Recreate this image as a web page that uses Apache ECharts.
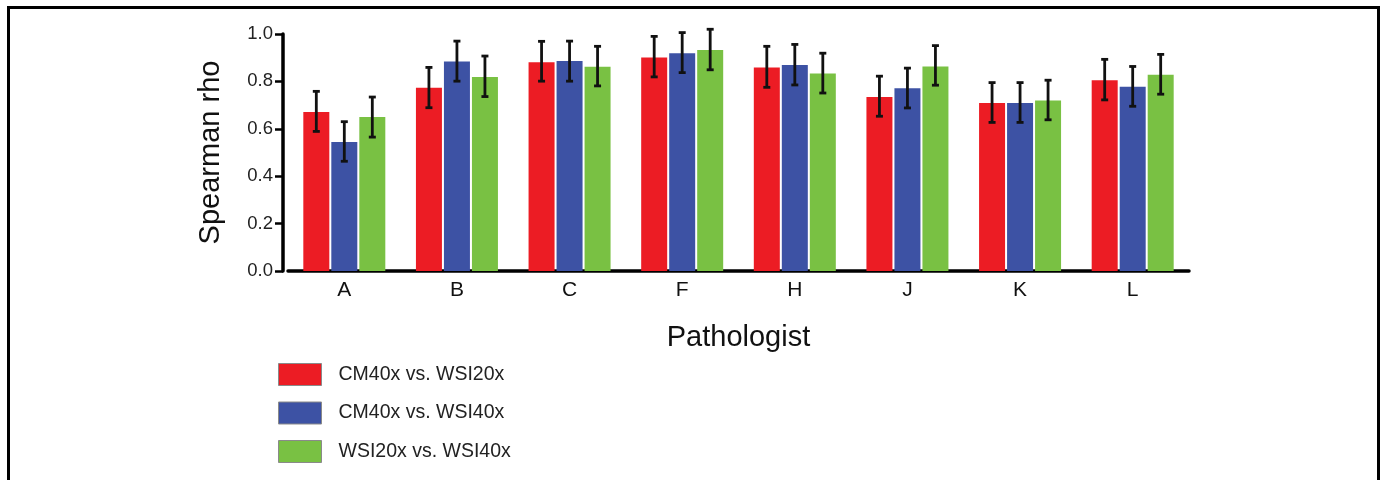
<!DOCTYPE html>
<html>
<head>
<meta charset="utf-8">
<script src="https://cdn.jsdelivr.net/npm/echarts@6/dist/echarts.min.js"></script>
<style>
html,body{margin:0;padding:0;background:#fff;}
#chart{width:1380px;height:480px;position:absolute;left:0;top:0;}
#frame{position:absolute;left:7px;top:6px;width:1367px;height:480px;border-left:3px solid #000;border-top:3px solid #000;border-right:3px solid #000;pointer-events:none;box-sizing:content-box;}
</style>
</head>
<body>
<div id="chart"></div>
<div id="frame"></div>
<script>
const categories = ['A','B','C','F','H','J','K','L'];
const seriesNames = ['CM40x vs. WSI20x','CM40x vs. WSI40x','WSI20x vs. WSI40x'];
const redVals   = [0.671,0.773,0.881,0.901,0.859,0.734,0.709,0.805];
const redHi     = [0.758,0.859,0.969,0.990,0.948,0.822,0.795,0.893];
const redLo     = [0.589,0.689,0.801,0.819,0.775,0.653,0.627,0.722];
const blueVals  = [0.544,0.884,0.886,0.919,0.869,0.771,0.709,0.777];
const blueHi    = [0.630,0.970,0.970,1.006,0.956,0.856,0.795,0.863];
const blueLo    = [0.463,0.801,0.801,0.837,0.785,0.688,0.627,0.695];
const greenVals = [0.650,0.819,0.862,0.932,0.833,0.863,0.719,0.828];
const greenHi   = [0.734,0.907,0.948,1.020,0.919,0.951,0.805,0.914];
const greenLo   = [0.565,0.736,0.781,0.849,0.751,0.784,0.638,0.746];
const yTicks = [0,0.2,0.4,0.6,0.8,1.0];

const colors = ['#EC1C24','#3D52A4','#79C143'];
const BAR_W = 26, BAR_GAP = 2;
const FONT = '"Liberation Sans", Arial, sans-serif';

const vals = [redVals, blueVals, greenVals];
const his = [redHi, blueHi, greenHi];
const los = [redLo, blueLo, greenLo];

const chart = echarts.init(document.getElementById('chart'), null, {renderer:'canvas'});

const series = [];
vals.forEach((v, i) => {
  series.push({
    name: seriesNames[i],
    type: 'bar',
    data: v,
    barWidth: BAR_W,
    barGap: (BAR_GAP / BAR_W * 100) + '%',
    itemStyle: {color: colors[i]},
    silent: true
  });
});
vals.forEach((v, i) => {
  const data = categories.map((c, k) => [k, los[i][k], his[i][k]]);
  series.push({
    type: 'custom',
    silent: true,
    clip: false,
    z: 10,
    data: data,
    encode: {x: 0, y: [1, 2]},
    renderItem: function (params, api) {
      const k = api.value(0);
      const lo = api.coord([k, api.value(1)]);
      const hi = api.coord([k, api.value(2)]);
      const off = (i - 1) * (BAR_W + BAR_GAP);
      const x = lo[0] + off;
      const cap = 3.5;
      const style = {stroke: '#111', lineWidth: 2.8, fill: null};
      return {
        type: 'group',
        children: [
          {type: 'line', shape: {x1: x, y1: lo[1], x2: x, y2: hi[1]}, style: style},
          {type: 'line', shape: {x1: x - cap, y1: hi[1], x2: x + cap, y2: hi[1]}, style: style},
          {type: 'line', shape: {x1: x - cap, y1: lo[1], x2: x + cap, y2: lo[1]}, style: style}
        ]
      };
    }
  });
});

chart.setOption({
  animation: false,
  backgroundColor: '#fff',
  textStyle: {fontFamily: FONT},
  grid: {left: 288, right: 191, top: 34, bottom: 209, containLabel: false},
  legend: {
    orient: 'vertical',
    left: 278,
    top: 363,
    padding: 0,
    itemWidth: 43,
    itemHeight: 22,
    itemGap: 15.5,
    data: seriesNames,
    icon: 'rect',
    itemStyle: {borderColor: '#8a8a8a', borderWidth: 1},
    textStyle: {fontSize: 19.5, color: '#222', fontFamily: FONT, padding: [0,0,0,12]},
    selectedMode: false
  },
  xAxis: {
    type: 'category',
    data: categories,
    name: 'Pathologist',
    nameLocation: 'middle',
    nameGap: 52,
    nameTextStyle: {fontSize: 29, color: '#111', fontFamily: FONT},
    axisLine: {lineStyle: {color: '#000', width: 3.5}},
    axisTick: {show: false},
    axisLabel: {fontSize: 21, color: '#111', margin: 9, fontFamily: FONT}
  },
  yAxis: {
    type: 'value',
    min: 0,
    max: 1,
    interval: 0.2,
    offset: 5,
    name: 'Spearman rho',
    nameLocation: 'middle',
    nameGap: 58,
    nameRotate: 90,
    nameTextStyle: {fontSize: 29, color: '#111', fontFamily: FONT},
    axisLine: {show: true, lineStyle: {color: '#000', width: 3.5}},
    axisTick: {show: true, length: 8, lineStyle: {color: '#000', width: 2.5}},
    splitLine: {show: false},
    axisLabel: {
      fontSize: 18.5, color: '#222', margin: 10, fontFamily: FONT,
      formatter: function (v) { return yTicks.indexOf(Math.round(v*10)/10) >= 0 ? v.toFixed(1) : ''; }
    }
  },
  series: series
});
</script>
</body>
</html>
